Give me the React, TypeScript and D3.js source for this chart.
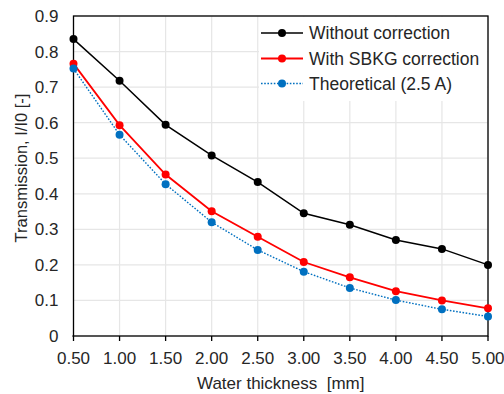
import React from "react";
import * as d3 from "d3";

const thickness = [0.5, 1.0, 1.5, 2.0, 2.5, 3.0, 3.5, 4.0, 4.5, 5.0];
const withoutCorrection = [0.835, 0.718, 0.594, 0.508, 0.433, 0.345, 0.313, 0.27, 0.245, 0.2];
const withSbkg = [0.766, 0.593, 0.454, 0.351, 0.279, 0.208, 0.165, 0.126, 0.1, 0.078];
const theoretical = [0.752, 0.566, 0.427, 0.32, 0.242, 0.181, 0.135, 0.101, 0.075, 0.055];

const xTicks = [0.5, 1.0, 1.5, 2.0, 2.5, 3.0, 3.5, 4.0, 4.5, 5.0];
const yTicks = [0, 0.1, 0.2, 0.3, 0.4, 0.5, 0.6, 0.7, 0.8, 0.9];

const seriesNames = ["Without correction", "With SBKG correction", "Theoretical (2.5 A)"];
const seriesColors = ["#000000", "#ff0000", "#0070c0"];

const W = 504;
const H = 394;
const margin = { top: 16, right: 16, bottom: 58, left: 73.5 };
const font = "Arial, 'Liberation Sans', sans-serif";
const textColor = "#262626";

export default function App() {
  const x = d3.scaleLinear().domain([0.5, 5]).range([margin.left, W - margin.right]);
  const y = d3.scaleLinear().domain([0, 0.9]).range([H - margin.bottom, margin.top]);

  const line = d3
    .line<number>()
    .x((_, i) => x(thickness[i]))
    .y((d) => y(d));

  const series = [withoutCorrection, withSbkg, theoretical];
  const styles = [
    { width: 1.5, dash: undefined as string | undefined },
    { width: 1.8, dash: undefined as string | undefined },
    { width: 1.4, dash: "1.6 1.6" },
  ];

  const [x0, x1] = x.range();
  const [yb, yt] = y.range();

  // legend block
  const legX = 261;
  const legRows = [33, 58.5, 83.5];

  return (
    <svg
      width={W}
      height={H}
      style={{ position: "absolute", left: 0, top: 0, background: "#fff" }}
      fontFamily={font}
    >
      <rect x={0} y={0} width={W} height={H} fill="#fff" />

      {/* grid */}
      {yTicks.map((t) => (
        <line key={"gy" + t} x1={x0} x2={x1} y1={y(t)} y2={y(t)} stroke="#e6e6e6" strokeWidth={1.2} />
      ))}
      {xTicks.map((t) => (
        <line key={"gx" + t} x1={x(t)} x2={x(t)} y1={yt} y2={yb} stroke="#e6e6e6" strokeWidth={1.2} />
      ))}

      {/* legend background */}
      <rect x={259} y={yt + 1} width={x1 - 259 - 1} height={84} fill="#fff" />

      {/* frame */}
      <rect x={x0} y={yt} width={x1 - x0} height={yb - yt} fill="none" stroke="#000" strokeWidth={1.3} />
      {xTicks.map((t) => (
        <line key={"tx" + t} x1={x(t)} x2={x(t)} y1={yb} y2={yb + 5} stroke="#000" strokeWidth={1.3} />
      ))}
      <line x1={x0 - 1} x2={x0} y1={yb} y2={yb} stroke="#000" strokeWidth={1.3} />

      {/* tick labels */}
      {yTicks.map((t) => (
        <text
          key={"ly" + t}
          x={x0 - 15}
          y={y(t)}
          dy="0.35em"
          textAnchor="end"
          fontSize={17}
          fill={textColor}
        >
          {t === 0 ? "0" : t.toFixed(1)}
        </text>
      ))}
      {xTicks.map((t) => (
        <text key={"lx" + t} x={x(t)} y={364} textAnchor="middle" fontSize={17} fill={textColor}>
          {t.toFixed(2)}
        </text>
      ))}

      {/* axis titles */}
      <text x={(x0 + x1) / 2} y={389} textAnchor="middle" fontSize={17} fill={textColor}>
        Water thickness{"\u00a0"} [mm]
      </text>
      <text
        transform={`translate(27,${168}) rotate(-90)`}
        textAnchor="middle"
        fontSize={16.5}
        fill={textColor}
      >
        Transmission, I/I0 [-]
      </text>

      {/* series */}
      {series.map((vals, si) => (
        <g key={"s" + si}>
          <path
            d={line(vals) ?? ""}
            fill="none"
            stroke={seriesColors[si]}
            strokeWidth={styles[si].width}
            strokeDasharray={styles[si].dash}
          />
          {vals.map((v, i) => (
            <circle key={i} cx={x(thickness[i])} cy={y(v)} r={4} fill={seriesColors[si]} />
          ))}
        </g>
      ))}

      {/* legend */}
      {seriesNames.map((name, si) => (
        <g key={"leg" + si}>
          <line
            x1={legX}
            x2={legX + 42}
            y1={legRows[si]}
            y2={legRows[si]}
            stroke={seriesColors[si]}
            strokeWidth={styles[si].width}
            strokeDasharray={styles[si].dash}
          />
          <circle cx={legX + 21} cy={legRows[si]} r={4} fill={seriesColors[si]} />
          <text x={309} y={legRows[si]} dy="0.36em" fontSize={17.5} fill={textColor}>
            {name}
          </text>
        </g>
      ))}
    </svg>
  );
}
